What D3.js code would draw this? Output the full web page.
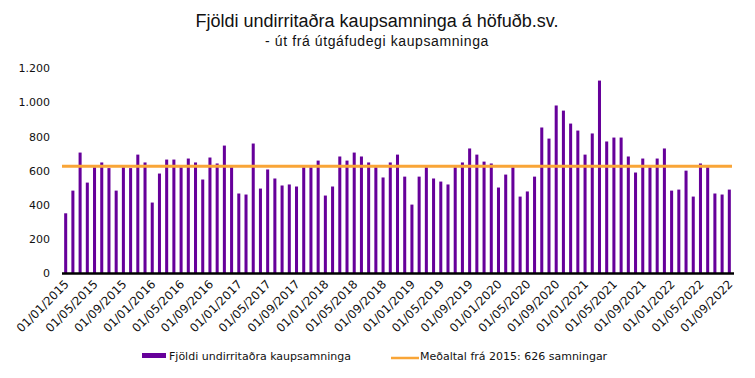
<!DOCTYPE html>
<html><head><meta charset="utf-8">
<script src="https://cdn.jsdelivr.net/npm/d3@7"></script>
<style>
html,body{margin:0;padding:0;background:#fff;}
svg{display:block;}
</style></head>
<body><svg id="c" width="755" height="378"></svg>
<script>
const months = [
"01/01/2015","01/02/2015","01/03/2015","01/04/2015","01/05/2015","01/06/2015","01/07/2015","01/08/2015","01/09/2015","01/10/2015","01/11/2015","01/12/2015",
"01/01/2016","01/02/2016","01/03/2016","01/04/2016","01/05/2016","01/06/2016","01/07/2016","01/08/2016","01/09/2016","01/10/2016","01/11/2016","01/12/2016",
"01/01/2017","01/02/2017","01/03/2017","01/04/2017","01/05/2017","01/06/2017","01/07/2017","01/08/2017","01/09/2017","01/10/2017","01/11/2017","01/12/2017",
"01/01/2018","01/02/2018","01/03/2018","01/04/2018","01/05/2018","01/06/2018","01/07/2018","01/08/2018","01/09/2018","01/10/2018","01/11/2018","01/12/2018",
"01/01/2019","01/02/2019","01/03/2019","01/04/2019","01/05/2019","01/06/2019","01/07/2019","01/08/2019","01/09/2019","01/10/2019","01/11/2019","01/12/2019",
"01/01/2020","01/02/2020","01/03/2020","01/04/2020","01/05/2020","01/06/2020","01/07/2020","01/08/2020","01/09/2020","01/10/2020","01/11/2020","01/12/2020",
"01/01/2021","01/02/2021","01/03/2021","01/04/2021","01/05/2021","01/06/2021","01/07/2021","01/08/2021","01/09/2021","01/10/2021","01/11/2021","01/12/2021",
"01/01/2022","01/02/2022","01/03/2022","01/04/2022","01/05/2022","01/06/2022","01/07/2022","01/08/2022","01/09/2022"
];
const contracts = [
350,483,706,530,620,648,615,483,620,615,694,648,
413,583,665,665,620,671,648,548,677,642,747,620,
466,460,759,495,607,554,513,519,507,620,620,659,
454,507,683,659,706,683,648,620,560,648,694,565,
401,565,620,554,536,519,620,648,730,694,653,642,
501,577,620,448,478,565,853,788,982,952,876,835,
694,818,1128,771,794,794,683,589,671,620,671,730,
483,489,600,448,642,620,466,460,489
];
const average = 626;
const yTicks = [0,200,400,600,800,1000,1200];
const title = "Fjöldi undirritaðra kaupsamninga á höfuðb.sv.";
const subtitle = "- út frá útgáfudegi kaupsamninga";
const legendBar = "Fjöldi undirritaðra kaupsamninga";
const legendLine = "Meðaltal frá 2015: 626 samningar";

(function () {
const svg = d3.select("#c");
const mL = 62, mR = 733, mT = 68.3, mB = 273;
const purple = "#66009a", orange = "#f9a537";
const tickFont = "DejaVu Sans, Verdana, sans-serif";
const titleFont = "Liberation Sans, Arial, sans-serif";

const x = d3.scaleBand().domain(months).range([mL, mR]).paddingInner(0.58).paddingOuter(0.3);
const y = d3.scaleLinear().domain([0, 1200]).range([mB, mT]);
const fmt = v => d3.format(",")(v).replace(/,/g, ".");

svg.append("text").attr("x", 377).attr("y", 27).attr("text-anchor", "middle")
  .attr("font-family", titleFont).attr("font-size", 18).attr("fill", "#111").text(title);
svg.append("text").attr("x", 377).attr("y", 46).attr("text-anchor", "middle")
  .attr("font-family", titleFont).attr("font-size", 14).attr("letter-spacing", 0.6).attr("fill", "#111").text(subtitle);

const ya = svg.append("g").attr("transform", `translate(${mL},0)`)
  .call(d3.axisLeft(y).tickValues(yTicks).tickFormat(fmt).tickSize(0).tickPadding(12));
ya.select(".domain").remove();
ya.selectAll("text").attr("font-family", tickFont).attr("font-size", 11).attr("fill", "#111");

svg.append("g").selectAll("rect").data(contracts).join("rect")
  .attr("x", (d, i) => x(months[i]))
  .attr("width", x.bandwidth())
  .attr("y", d => y(d))
  .attr("height", d => y(0) - y(d))
  .attr("fill", purple);

svg.append("line").attr("x1", mL).attr("x2", mR + 1).attr("y1", mB + 0.5).attr("y2", mB + 0.5)
  .attr("stroke", "#000").attr("stroke-width", 2.5);

svg.append("line").attr("x1", mL).attr("x2", mR - 1).attr("y1", y(average)).attr("y2", y(average))
  .attr("stroke", orange).attr("stroke-width", 3);

const xa = svg.append("g").attr("transform", `translate(0,${mB})`)
  .call(d3.axisBottom(x).tickValues(months.filter((m, i) => i % 4 === 0)).tickSize(0).tickPadding(0));
xa.select(".domain").remove();
xa.selectAll("text")
  .attr("font-family", tickFont).attr("font-size", 11.8).attr("fill", "#111")
  .attr("text-anchor", "end").attr("dy", 0).attr("y", 0)
  .attr("transform", "translate(4,12) rotate(-45)");

const lg = svg.append("g");
lg.append("rect").attr("x", 142).attr("y", 353).attr("width", 24).attr("height", 5).attr("fill", purple);
lg.append("text").attr("x", 169).attr("y", 360).attr("font-family", tickFont).attr("font-size", 11).attr("fill", "#111").text(legendBar);
lg.append("line").attr("x1", 391).attr("x2", 419).attr("y1", 358).attr("y2", 358).attr("stroke", orange).attr("stroke-width", 2.5);
lg.append("text").attr("x", 420).attr("y", 360).attr("font-family", tickFont).attr("font-size", 11).attr("fill", "#111").text(legendLine);
})();
</script></body></html>
